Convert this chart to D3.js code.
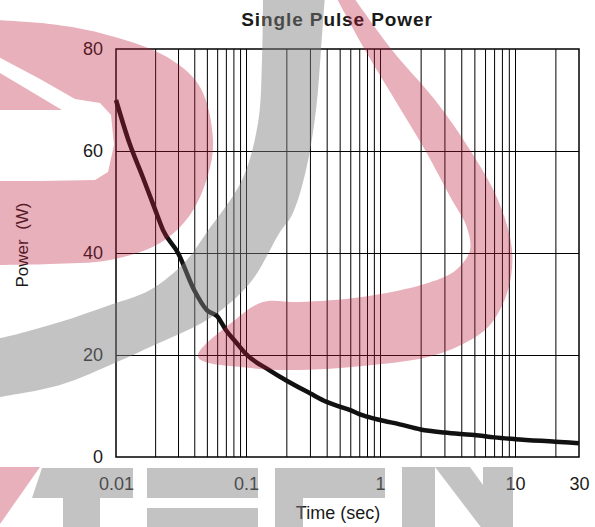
<!DOCTYPE html>
<html>
<head>
<meta charset="utf-8">
<script src="https://cdn.jsdelivr.net/npm/d3@7"></script>
<style>
  body { margin: 0; background: #fff; }
  svg { display: block; font-family: "Liberation Sans", Arial, sans-serif; }
</style>
</head>
<body>
<div id="chart"></div>
<script>
// values
const time = [0.01, 0.0127, 0.016, 0.02, 0.023, 0.03, 0.04, 0.05, 0.06, 0.07, 0.085, 0.1,
  0.15, 0.2, 0.3, 0.4, 0.5, 0.6, 0.7, 0.8, 1, 1.4, 2, 3, 4, 5, 7, 10, 20, 30];
const power = [70, 61.5, 55, 48.5, 44.5, 40, 32.7, 28.8, 27.6, 24.9, 22.3, 20.2,
  17, 15, 12.5, 10.8, 9.9, 9.2, 8.4, 7.9, 7.25, 6.4, 5.4, 4.8, 4.5, 4.3, 3.85, 3.5, 3.0, 2.7];
const xLabelValues = [0.01, 0.1, 1, 10, 30];
const xLabels = ["0.01", "0.1", "1", "10", "30"];
const xGrid = [0.02, 0.03, 0.04, 0.05, 0.06, 0.07, 0.08, 0.09, 0.1,
  0.2, 0.3, 0.4, 0.5, 0.6, 0.7, 0.8, 0.9, 1, 2, 3, 4, 5, 6, 7, 8, 9, 10, 20];
const yTicks = [0, 20, 40, 60, 80];

const W = 595, H = 527;
const pLeft = 116, pRight = 579, pTop = 49, pBottom = 457;

const svg = d3.select("#chart").append("svg")
    .attr("width", W)
    .attr("height", H);

// log axis, first decade a bit narrower like the original sheet
const x = d3.scaleLog()
    .domain([0.01, 0.1, 1, 10, 30])
    .range([pLeft, 246, 380, 515, pRight]);
const y = d3.scaleLinear()
    .domain([0, 80])
    .range([pBottom, pTop]);

// grid
const gx = svg.append("g")
    .attr("transform", "translate(0," + pBottom + ")")
    .call(d3.axisBottom(x).tickValues(xGrid).tickSize(-(pBottom - pTop)).tickFormat(""));
gx.select(".domain").remove();
gx.selectAll("line").attr("stroke", "#000").attr("stroke-width", 1);

const gy = svg.append("g")
    .attr("transform", "translate(" + pLeft + ",0)")
    .call(d3.axisLeft(y).tickValues([20, 40, 60]).tickSize(-(pRight - pLeft)).tickFormat(""));
gy.select(".domain").remove();
gy.selectAll("line").attr("stroke", "#000").attr("stroke-width", 1);

// frame
svg.append("rect")
    .attr("x", pLeft).attr("y", pTop)
    .attr("width", pRight - pLeft).attr("height", pBottom - pTop)
    .attr("fill", "none")
    .attr("stroke", "#000")
    .attr("stroke-width", 1.5);

// tick labels
const ax = svg.append("g")
    .attr("transform", "translate(0," + pBottom + ")")
    .call(d3.axisBottom(x).tickValues(xLabelValues).tickSize(0).tickPadding(20)
        .tickFormat((d, i) => xLabels[i]));
ax.select(".domain").remove();
ax.selectAll("text").attr("font-size", 18).attr("fill", "#1a1a1a")
    .attr("font-family", "Liberation Sans, Arial, sans-serif");

const ay = svg.append("g")
    .attr("transform", "translate(" + pLeft + ",0)")
    .call(d3.axisLeft(y).tickValues(yTicks).tickSize(0).tickPadding(13));
ay.select(".domain").remove();
ay.selectAll("text").attr("font-size", 18).attr("fill", "#1a1a1a")
    .attr("font-family", "Liberation Sans, Arial, sans-serif");

// curve
const line = d3.line()
    .x((d, i) => x(time[i]))
    .y(d => y(d))
    .curve(d3.curveMonotoneX);
svg.append("path")
    .datum(power)
    .attr("d", line)
    .attr("fill", "none")
    .attr("stroke", "#111")
    .attr("stroke-width", 4.5)
    .attr("stroke-linejoin", "round");

// titles
svg.append("text")
    .attr("x", 337).attr("y", 26)
    .attr("text-anchor", "middle")
    .attr("font-size", 19)
    .attr("font-weight", "bold")
    .attr("letter-spacing", 0.9)
    .attr("fill", "#1a1a1a")
    .text("Single Pulse Power");

svg.append("text")
    .attr("x", 338).attr("y", 519)
    .attr("text-anchor", "middle")
    .attr("font-size", 18)
    .attr("fill", "#1a1a1a")
    .text("Time (sec)");

svg.append("text")
    .attr("transform", "translate(28,245) rotate(-90)")
    .attr("text-anchor", "middle")
    .attr("font-size", 17)
    .attr("fill", "#1a1a1a")
    .style("white-space", "pre")
    .text("Power  (W)");

// watermark over everything
const wm = svg.append("g");
const smooth = d3.line().curve(d3.curveCatmullRom);
const pink = "rgba(190,30,60,0.35)";
const grey = "rgba(128,128,128,0.47)";

const bowlOuter = [[-5, 20], [50, 24], [100, 33], [167, 57], [200, 87], [213, 140], [208, 175],
  [190, 215], [160, 243], [110, 260], [50, 264], [-5, 265]];
const bowlHole = [[-5, 55], [40, 79], [75, 99], [100, 103], [111, 115], [114, 145], [108, 172],
  [95, 180], [40, 181], [-5, 181], [-5, 110], [62, 110], [-5, 70]];
wm.append("path")
    .attr("d", smooth(bowlOuter) + "Z" + d3.line()(bowlHole) + "Z")
    .attr("fill-rule", "evenodd")
    .attr("fill", pink);

const arc = [[325, -5], [321, 50], [316, 110], [306, 170], [292, 215], [280, 232], [250, 283],
  [210, 318], [150, 347], [117, 362], [60, 385], [0, 397], [-5, 398],
  [-5, 338], [0, 338], [60, 322], [110, 305], [150, 290], [185, 262], [207, 232], [242, 180],
  [258, 123], [262, 60], [263, -5]];
wm.append("path")
    .attr("d", smooth(arc) + "Z")
    .attr("fill", grey);

const dShape = [[352, -5], [392, 50], [435, 100], [470, 150], [498, 200], [512, 250], [508, 290],
  [490, 325], [465, 343], [428, 357], [362, 366], [300, 370], [250, 368], [198, 357],
  [235, 320], [263, 302], [300, 302], [362, 297], [428, 283], [456, 270], [470, 250],
  [466, 225], [452, 200], [425, 150], [395, 100], [365, 50], [335, -5]];
wm.append("path")
    .attr("d", smooth(dShape) + "Z")
    .attr("fill", pink);

wm.append("path")
    .attr("d", "M0,467L40,467L0,524Z")
    .attr("fill", pink);

const letters = [
  "M42,468L133,468L133,498L32,498Z",
  "M63,498H100V530H63Z",
  "M147,468H258V498H147Z",
  "M147,508H258V530H147Z",
  "M275,468H385V498H275Z",
  "M275,498H303V530H275Z",
  "M402,467H435V530H402Z",
  "M483,467H513V530H483Z",
  "M435,467L470,467L483,485L483,530Z"
];
wm.selectAll("path.letter")
    .data(letters)
    .join("path")
    .attr("class", "letter")
    .attr("d", d => d)
    .attr("fill", grey);
</script>
</body>
</html>
